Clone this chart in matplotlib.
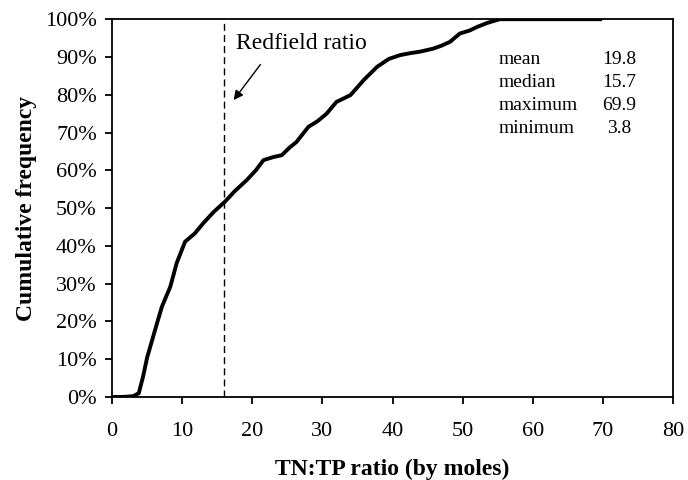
import matplotlib
matplotlib.use("Agg")
import matplotlib.pyplot as plt
from matplotlib.ticker import PercentFormatter

# cumulative frequency curve
ratio = [0, 1.5, 3.0, 3.8, 4.4, 5.0, 5.7, 6.4, 7.1, 8.3, 9.2, 10.4, 11.8,
         13.0, 14.5, 16.1, 17.5, 19.2, 20.5, 21.6, 23.0, 24.2, 25.3, 26.3,
         28.0, 29.3, 30.6, 32.0, 34.0, 35.9, 37.8, 39.5, 41.1, 42.5, 43.9,
         45.8, 47.0, 48.2, 49.6, 51.0, 52.0, 53.5, 54.4, 55.3, 60.0, 65.0, 69.9]
cumfreq = [0, 0, 0.2, 1.0, 5.3, 10.5, 15.0, 19.5, 23.9, 29.2, 35.4, 41.1, 43.3,
           46.0, 49.0, 51.7, 54.5, 57.4, 60.0, 62.7, 63.5, 64.0, 66.0, 67.5,
           71.5, 73.0, 75.0, 78.1, 79.9, 83.9, 87.4, 89.5, 90.5, 91.0, 91.4,
           92.2, 93.0, 94.0, 96.2, 97.0, 97.9, 99.0, 99.5, 100, 100, 100, 100]

redfield = 16
stat_names = ["mean", "median", "maximum", "minimum"]
stat_values = ["19.8", "15.7", "69.9", "3.8"]

plt.rcParams["font.family"] = ["Liberation Serif", "DejaVu Serif"]

fig = plt.figure(figsize=(6.88, 4.8), dpi=100)
ax = fig.add_axes([0.163, 0.173, 0.815, 0.787])

ax.plot(ratio, cumfreq, color="black", lw=2.8, solid_capstyle="butt")
ax.axvline(redfield, color="black", lw=1, ls=(0, (5, 3)))

ax.set_xlim(0, 80)
ax.set_ylim(0, 100)
ax.set_xticks(range(0, 81, 10))
ax.set_yticks(range(0, 101, 10))
ax.yaxis.set_major_formatter(PercentFormatter(decimals=0))
ax.tick_params(direction="out", length=5, width=1.3, labelsize=16, color="black")
ax.tick_params(axis="x", pad=13)
ax.tick_params(axis="y", pad=6)
for s in ax.spines.values():
    s.set_linewidth(1.3)

ax.set_xlabel("TN:TP ratio (by moles)", fontsize=17, fontweight="bold", labelpad=13)
ax.set_ylabel("Cumulative frequency", fontsize=17, fontweight="bold", labelpad=6)

ax.annotate("", xy=(17.1, 78), xytext=(21.4, 88.6),
            arrowprops=dict(arrowstyle="-|>", color="black", lw=1, mutation_scale=14))
ax.text(17.6, 93.5, "Redfield ratio", fontsize=17, va="center", ha="left")

for i, (name, val) in enumerate(zip(stat_names, stat_values)):
    y = 89.4 - i * 6.15
    ax.text(55.1, y, name, fontsize=14, va="center", ha="left")
    ax.text(72.3, y, val, fontsize=14, va="center", ha="center")

fig.savefig("out.png", dpi=100)
